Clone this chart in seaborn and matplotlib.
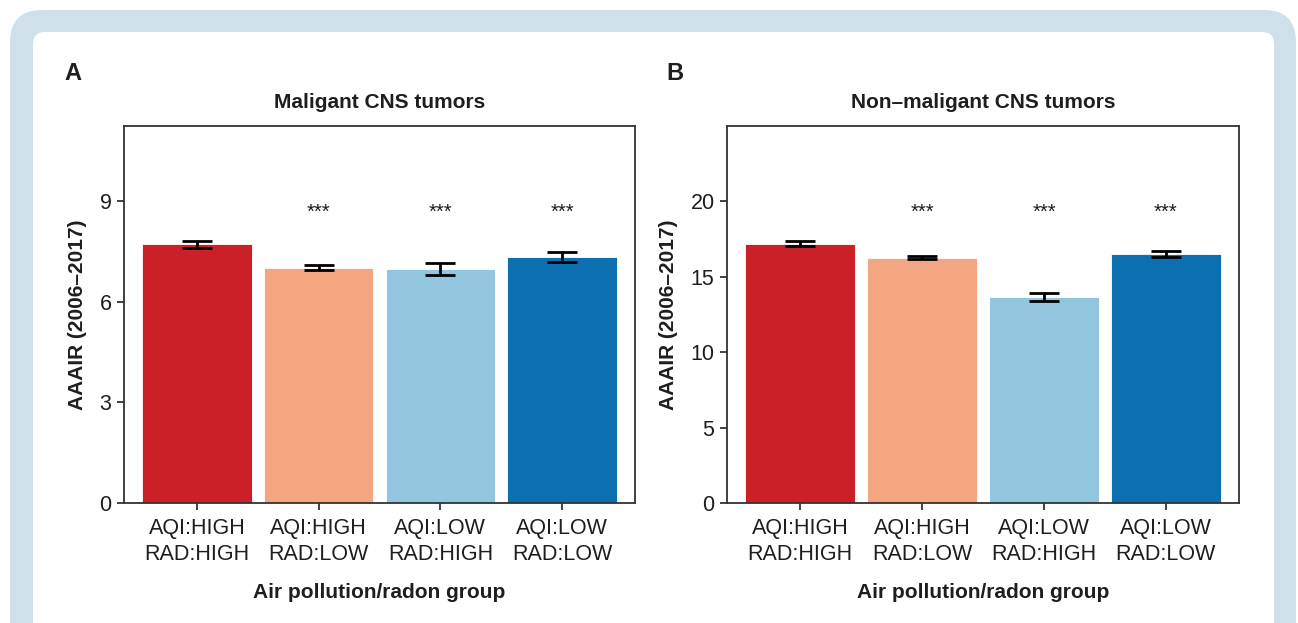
from __future__ import annotations

import matplotlib.pyplot as plt
import pandas as pd
import seaborn as sns
from matplotlib.patches import FancyBboxPatch

GROUPS = ["AQI:HIGH\nRAD:HIGH", "AQI:HIGH\nRAD:LOW", "AQI:LOW\nRAD:HIGH", "AQI:LOW\nRAD:LOW"]
COLORS = ["#CB2027", "#F4A582", "#92C5DE", "#0C70B0"]

MALIGNANT_RATE = [7.72, 7.02, 6.97, 7.34]
MALIGNANT_ERR = [0.10, 0.07, 0.18, 0.14]
NONMALIGNANT_RATE = [17.20, 16.27, 13.66, 16.51]
NONMALIGNANT_ERR = [0.16, 0.12, 0.28, 0.22]

STARS = ["", "***", "***", "***"]
MALIGNANT_STAR_Y = 8.66
NONMALIGNANT_STAR_Y = 19.26

MALIGNANT_YTICKS = [0, 3, 6, 9]
NONMALIGNANT_YTICKS = [0, 5, 10, 15, 20]

TEXT = "#1E1E1E"
FRAME = "#CFE0EA"


def draw_panel(ax, rates, errs, star_y, yticks, ymax, title, letter, fig, letter_x):
    df = pd.DataFrame({"group": GROUPS, "rate": rates})
    sns.barplot(data=df, x="group", y="rate", hue="group", palette=COLORS, width=0.9,
                legend=False, ax=ax, edgecolor="white", linewidth=0.6, saturation=1)
    xs = ax.get_xticks()
    ax.errorbar(xs, rates, yerr=errs, fmt="none", ecolor="black", elinewidth=2.0,
                capsize=11, capthick=2.0, zorder=5)
    for x, s in zip(xs, STARS):
        ax.text(x, star_y, s, ha="center", va="center", fontsize=14.5, color=TEXT)

    ax.set_xlim(-0.6, 3.6)
    ax.set_ylim(0, ymax)
    ax.set_yticks(yticks)
    ax.set_title(title, fontsize=15, fontweight="bold", color=TEXT, pad=13)
    ax.set_xlabel("Air pollution/radon group", fontsize=15, fontweight="bold", color=TEXT, labelpad=13)
    ax.set_ylabel("AAAIR (2006\u20132017)", fontsize=15, fontweight="bold", color=TEXT, labelpad=9)
    ax.tick_params(axis="both", labelsize=15.5, colors="#333333", labelcolor=TEXT,
                   length=5, width=1.3, pad=4)
    ax.tick_params(axis="x", pad=6)
    for lbl in ax.get_xticklabels():
        lbl.set_linespacing(1.28)
    for sp in ax.spines.values():
        sp.set_visible(True)
        sp.set_color("#333333")
        sp.set_linewidth(1.3)
    fig.text(letter_x, 1 - 73 / 623, letter, fontsize=17, fontweight="bold", color=TEXT,
             ha="center", va="center")


def main() -> None:
    sns.set_style("ticks")
    plt.rcParams["font.family"] = ["Liberation Sans", "DejaVu Sans"]

    W, H = 1298, 623
    fig = plt.figure(figsize=(W / 100, H / 100), dpi=100)

    outer = FancyBboxPatch((10, -60), 1286, 613 + 60, boxstyle="round,pad=0,rounding_size=32",
                           transform=None, facecolor=FRAME, edgecolor="none", zorder=-10)
    inner = FancyBboxPatch((33, -60), 1241, 591 + 60, boxstyle="round,pad=0,rounding_size=12",
                           transform=None, facecolor="white", edgecolor="none", zorder=-9)
    fig.patches.extend([outer, inner])

    ax_a = fig.add_axes([124 / W, (H - 503) / H, 511 / W, 377 / H])
    ax_b = fig.add_axes([727 / W, (H - 503) / H, 512 / W, 377 / H])

    draw_panel(ax_a, MALIGNANT_RATE, MALIGNANT_ERR, MALIGNANT_STAR_Y, MALIGNANT_YTICKS, 11.25,
               "Maligant CNS tumors", "A", fig, 73 / W)
    draw_panel(ax_b, NONMALIGNANT_RATE, NONMALIGNANT_ERR, NONMALIGNANT_STAR_Y, NONMALIGNANT_YTICKS, 25.0,
               "Non\u2013maligant CNS tumors", "B", fig, 675 / W)

    fig.savefig("out.png", dpi=100, facecolor="white")
    plt.close(fig)


if __name__ == "__main__":
    main()
